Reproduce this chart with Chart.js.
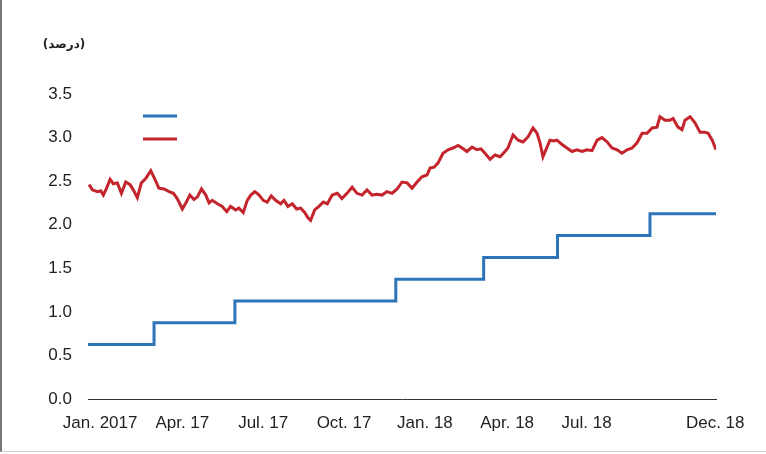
<!DOCTYPE html>
<html>
<head>
<meta charset="utf-8">
<script src="https://cdn.jsdelivr.net/npm/chart.js@4/dist/chart.umd.min.js"></script>
<style>
  html, body { margin: 0; padding: 0; background: #fff; }
  #wrap { position: relative; width: 766px; height: 454px; }
  #frame { position: absolute; left: 0; top: 0; width: 764px; height: 451px;
           border-left: 2px solid #777; border-bottom: 1px solid #ccc; }
  canvas { position: absolute; left: 0; top: 0; }
</style>
</head>
<body>
<div id="wrap">
  <div id="frame"></div>
  <canvas id="chart" width="766" height="454"></canvas>
</div>
<script>
// x is months since 1 Jan 2017
var tickMonths = [0.45, 3.5, 6.5, 9.5, 12.5, 15.55, 18.5, 23.27];
var tickText = ['Jan. 2017', 'Apr. 17', 'Jul. 17', 'Oct. 17', 'Jan. 18', 'Apr. 18', 'Jul. 18', 'Dec. 18'];
var yTicks = [0, 0.5, 1, 1.5, 2, 2.5, 3, 3.5];
var unitText = '(درصد)';

// policy rate: step changes
var rateMonths = [0, 2.45, 5.45, 11.42, 14.68, 17.42, 20.85, 23.3];
var rateValues = [0.625, 0.875, 1.125, 1.375, 1.625, 1.875, 2.125, 2.125];

// 10y yield readings
var yieldMonths = [
  0.04, 0.16, 0.35, 0.47, 0.57, 0.69, 0.82, 0.94, 1.09, 1.24,
  1.40, 1.56, 1.68, 1.83, 1.98, 2.14, 2.33, 2.47, 2.63, 2.82,
  3.01, 3.17, 3.31, 3.50, 3.63, 3.78, 3.93, 4.06, 4.21, 4.37,
  4.49, 4.61, 4.80, 4.98, 5.15, 5.29, 5.48, 5.60, 5.76, 5.91,
  6.04, 6.19, 6.35, 6.50, 6.65, 6.80, 6.96, 7.15, 7.27, 7.42,
  7.58, 7.74, 7.89, 8.04, 8.16, 8.26, 8.41, 8.57, 8.73, 8.88,
  9.06, 9.25, 9.42, 9.61, 9.80, 9.98, 10.17, 10.35, 10.54, 10.72,
  10.91, 11.09, 11.28, 11.47, 11.65, 11.84, 12.02, 12.21, 12.39, 12.58,
  12.69, 12.84, 12.99, 13.17, 13.36, 13.54, 13.73, 13.88, 14.06, 14.25,
  14.43, 14.58, 14.73, 14.92, 15.10, 15.29, 15.47, 15.58, 15.77, 15.96,
  16.14, 16.33, 16.51, 16.66, 16.77, 16.88, 17.03, 17.14, 17.29, 17.40,
  17.59, 17.77, 17.96, 18.14, 18.33, 18.52, 18.70, 18.89, 19.07, 19.26,
  19.44, 19.63, 19.81, 20.00, 20.19, 20.37, 20.56, 20.74, 20.93, 21.11,
  21.22, 21.41, 21.59, 21.71, 21.89, 22.04, 22.15, 22.34, 22.52, 22.71,
  22.89, 23.01, 23.16, 23.30
];
var yieldValues = [
  2.46, 2.40, 2.38, 2.39, 2.34, 2.42, 2.52, 2.47, 2.48, 2.36,
  2.49, 2.46, 2.40, 2.31, 2.48, 2.53, 2.62, 2.53, 2.42, 2.41,
  2.38, 2.36, 2.30, 2.18, 2.25, 2.34, 2.29, 2.32, 2.41, 2.34,
  2.25, 2.28, 2.24, 2.21, 2.15, 2.21, 2.17, 2.19, 2.14, 2.28,
  2.34, 2.38, 2.34, 2.28, 2.26, 2.33, 2.28, 2.24, 2.28, 2.21,
  2.24, 2.18, 2.19, 2.14, 2.08, 2.05, 2.17, 2.21, 2.26, 2.24,
  2.34, 2.36, 2.30, 2.36, 2.43, 2.36, 2.34, 2.40, 2.34, 2.35,
  2.34, 2.38, 2.36, 2.41, 2.49, 2.48, 2.42, 2.49, 2.55, 2.57,
  2.65, 2.66, 2.71, 2.82, 2.86, 2.88, 2.91, 2.88, 2.84, 2.89,
  2.86, 2.87, 2.82, 2.75, 2.80, 2.78, 2.84, 2.88, 3.03, 2.97,
  2.95, 3.01, 3.11, 3.05, 2.94, 2.78, 2.89, 2.97, 2.96, 2.97,
  2.92, 2.88, 2.84, 2.86, 2.84, 2.86, 2.85, 2.97, 3.00, 2.95,
  2.88, 2.86, 2.82, 2.86, 2.88, 2.94, 3.05, 3.05, 3.11, 3.12,
  3.24, 3.20, 3.20, 3.22, 3.12, 3.09, 3.20, 3.24, 3.17, 3.06,
  3.06, 3.05, 2.97, 2.86
];
var xEnd = 23.3;

var BLUE = '#2e74b8';
var RED = '#c4242b';

var rateData = rateMonths.map((m, i) => ({x: m, y: rateValues[i]}));
var yieldData = yieldMonths.map((m, i) => ({x: m, y: yieldValues[i]}));

// short line swatches top-left, no text (as in the source)
var legendLines = {
  id: 'legendLines',
  afterDraw: function(chart) {
    var ctx = chart.ctx;
    var a = chart.chartArea;
    ctx.save();
    ctx.lineWidth = 3;
    chart.data.datasets.forEach(function(ds, i) {
      ctx.strokeStyle = ds.borderColor;
      ctx.beginPath();
      ctx.moveTo(a.left + 55, a.top + 22 + i * 23);
      ctx.lineTo(a.left + 89, a.top + 22 + i * 23);
      ctx.stroke();
    });
    // unit label above the y ticks
    ctx.fillStyle = '#222';
    ctx.font = 'bold 12px "DejaVu Sans"';
    ctx.textAlign = 'center';
    ctx.textBaseline = 'middle';
    ctx.fillText(unitText, 64, 45);
    ctx.restore();
  }
};

var ctx = document.getElementById('chart');
var myChart = new Chart(ctx, { // eslint-disable-line
  type: 'line',
  data: {
    datasets: [
      {
        label: 'نرخ بهره',
        data: rateData,
        borderColor: BLUE,
        borderWidth: 3,
        stepped: 'before',
        pointRadius: 0,
        fill: false
      },
      {
        label: 'بازده اوراق ۱۰ ساله',
        data: yieldData,
        borderColor: RED,
        borderWidth: 3,
        tension: 0,
        pointRadius: 0,
        fill: false
      }
    ]
  },
  options: {
    responsive: false,
    animation: false,
    layout: { padding: { top: 94, right: 50, left: 0, bottom: 0 } },
    plugins: {
      legend: { display: false },
      tooltip: { enabled: false }
    },
    scales: {
      x: {
        type: 'linear',
        min: 0,
        max: xEnd,
        grid: { display: false, drawTicks: false },
        border: { display: true, color: '#333', width: 1 },
        afterBuildTicks: function(scale) {
          scale.ticks = tickMonths.map(v => ({value: v}));
        },
        afterFit: function(scale) { scale.height = 55; },
        ticks: {
          autoSkip: false,
          maxRotation: 0,
          padding: 14,
          color: '#222',
          font: { family: '"Liberation Sans", Arial', size: 17 },
          callback: function(v, i) { return tickText[i]; }
        }
      },
      y: {
        min: 0,
        max: 3.5,
        grid: { display: false, drawTicks: false },
        border: { display: false },
        afterBuildTicks: function(scale) {
          scale.ticks = yTicks.map(v => ({value: v}));
        },
        afterFit: function(scale) { scale.width = 88; },
        ticks: {
          padding: 16,
          color: '#222',
          font: { family: '"Liberation Sans", Arial', size: 17 },
          callback: function(v) { return v.toFixed(1); }
        }
      }
    }
  },
  plugins: [legendLines]
});
</script>
</body>
</html>
